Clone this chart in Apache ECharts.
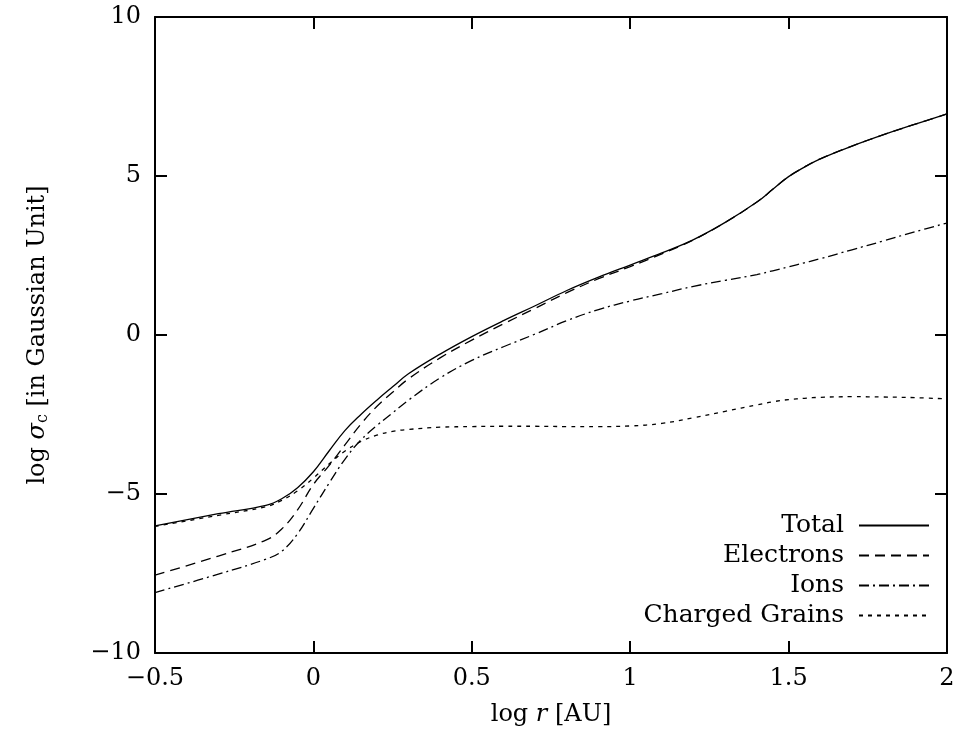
<!DOCTYPE html>
<html>
<head>
<meta charset="utf-8">
<script src="https://cdn.jsdelivr.net/npm/echarts@6/dist/echarts.min.js"></script>
<style>
  html, body { margin: 0; padding: 0; background: #fff; }
  #chart { width: 967px; height: 740px; }
</style>
</head>
<body>
<div id="chart"></div>
<script>
// log r [AU]
const logR = [-0.5, -0.3, -0.15, -0.1, -0.05, 0, 0.05, 0.1, 0.15, 0.2, 0.25, 0.3, 0.4, 0.5,
  0.6, 0.7, 0.8, 0.9, 1.0, 1.1, 1.2, 1.3, 1.4, 1.45, 1.5, 1.55, 1.6, 1.7, 1.8, 1.9, 2.0];

// log sigma_c for each component
const total = [-6.0, -5.62, -5.36, -5.15, -4.8, -4.3, -3.64, -3.0, -2.5, -2.05, -1.63, -1.22, -0.6, -0.05,
  0.45, 0.92, 1.4, 1.82, 2.2, 2.58, 3.0, 3.54, 4.18, 4.58, 4.98, 5.28, 5.54, 5.94, 6.3, 6.63, 6.95];
const electrons = [-7.55, -6.95, -6.45, -6.1, -5.5, -4.7, -4.1, -3.45, -2.8, -2.25, -1.8, -1.38, -0.72, -0.16,
  0.35, 0.84, 1.33, 1.77, 2.15, 2.55, 2.99, 3.54, 4.18, 4.58, 4.98, 5.28, 5.54, 5.94, 6.3, 6.63, 6.95];
const ions = [-8.1, -7.52, -7.05, -6.8, -6.25, -5.45, -4.65, -3.9, -3.3, -2.85, -2.45, -2.05, -1.35, -0.8,
  -0.37, 0.03, 0.45, 0.8, 1.07, 1.3, 1.53, 1.72, 1.9, 2.02, 2.14, 2.27, 2.4, 2.68, 2.96, 3.25, 3.52];
const grains = [-6.02, -5.67, -5.4, -5.2, -4.9, -4.5, -4.05, -3.65, -3.35, -3.15, -3.03, -2.97, -2.9, -2.88,
  -2.87, -2.87, -2.88, -2.88, -2.86, -2.78, -2.6, -2.4, -2.2, -2.1, -2.03, -1.99, -1.96, -1.94, -1.95, -1.97, -2.01];

const seriesNames = ['Total', 'Electrons', 'Ions', 'Charged Grains'];

const FONT = 'DejaVu Serif';
const minus = v => String(v).replace('-', '\u2212');

const chart = echarts.init(document.getElementById('chart'), null, { renderer: 'canvas' });

function pairs(ys) {
  return logR.map((x, i) => [x, ys[i]]);
}

function makeLine(name, ys, dash) {
  return {
    name: name,
    type: 'line',
    data: pairs(ys),
    showSymbol: false,
    symbol: 'none',
    smooth: 0.4,
    lineStyle: { color: '#000', width: 1.3, type: dash },
    itemStyle: { color: '#000' }
  };
}

const axisLine = { show: true, onZero: false, lineStyle: { color: '#000', width: 2 } };
const tick = { show: true, inside: true, length: 12, lineStyle: { color: '#000', width: 2 } };
const label = { color: '#000', fontFamily: FONT, fontSize: 24, formatter: minus };

const option = {
  animation: false,
  backgroundColor: '#fff',
  grid: { left: 155, right: 20, top: 17, bottom: 87, containLabel: false },
  legend: {
    orient: 'vertical',
    align: 'right',
    right: 37,
    top: 513,
    padding: 0,
    itemWidth: 70,
    itemHeight: 16,
    itemGap: 5,
    data: seriesNames,
    itemStyle: { opacity: 0, borderWidth: 0 },
    textStyle: { color: '#000', fontFamily: FONT, fontSize: 25, padding: [0, 10, 0, 0] }
  },
  xAxis: [
    {
      type: 'value', min: -0.5, max: 2, interval: 0.5, position: 'bottom',
      axisLine: axisLine, axisTick: tick, splitLine: { show: false },
      axisLabel: Object.assign({ margin: 14 }, label),
      name: '{n|log }{i|r}{n| [AU]}',
      nameLocation: 'middle', nameGap: 50,
      nameTextStyle: {
        rich: {
          n: { fontFamily: FONT, fontSize: 24, color: '#000' },
          i: { fontFamily: FONT, fontSize: 24, color: '#000', fontStyle: 'italic' }
        }
      }
    },
    {
      type: 'value', min: -0.5, max: 2, interval: 0.5, position: 'top',
      axisLine: axisLine, axisTick: tick, splitLine: { show: false },
      axisLabel: { show: false }
    }
  ],
  yAxis: [
    {
      type: 'value', min: -10, max: 10, interval: 5, position: 'left',
      axisLine: axisLine, axisTick: tick, splitLine: { show: false },
      axisLabel: Object.assign({ margin: 14 }, label),
      name: '{n|log }{i|σ}{s|c}{n| [in Gaussian Unit]}',
      nameLocation: 'middle', nameGap: 104,
      nameTextStyle: {
        rich: {
          n: { fontFamily: FONT, fontSize: 24, color: '#000' },
          i: { fontFamily: FONT, fontSize: 24, color: '#000', fontStyle: 'italic' },
          s: { fontFamily: FONT, fontSize: 16, color: '#000', padding: [10, 0, 0, 0] }
        }
      }
    },
    {
      type: 'value', min: -10, max: 10, interval: 5, position: 'right',
      axisLine: axisLine, axisTick: tick, splitLine: { show: false },
      axisLabel: { show: false }
    }
  ],
  series: [
    makeLine('Total', total, 'solid'),
    makeLine('Electrons', electrons, [10, 6]),
    makeLine('Ions', ions, [10, 4, 2, 4]),
    makeLine('Charged Grains', grains, [4, 5])
  ]
};

chart.setOption(option);
</script>
</body>
</html>
